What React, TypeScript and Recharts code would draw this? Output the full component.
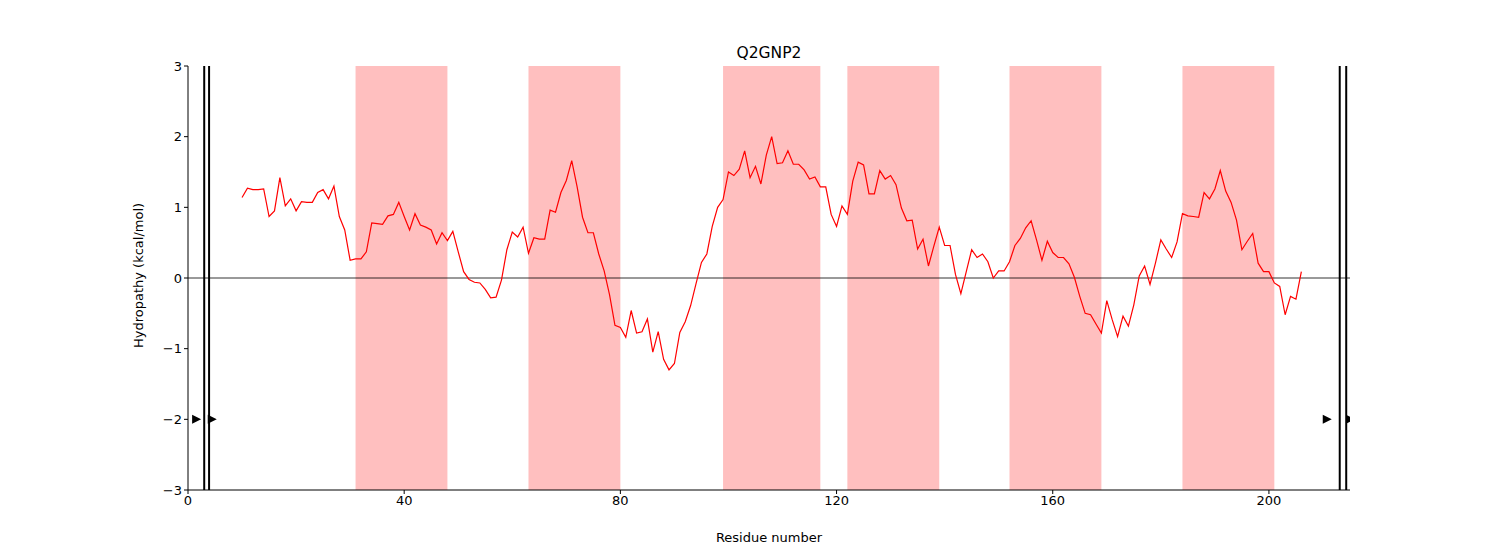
import React from 'react';
import { ComposedChart, Line, XAxis, YAxis, ReferenceArea, ReferenceLine, Scatter } from 'recharts';

const startResidue = 10;
const hydropathy = [
  1.14, 1.27, 1.25, 1.25, 1.26, 0.87, 0.95, 1.42, 1.02, 1.12,
  0.95, 1.08, 1.07, 1.07, 1.21, 1.25, 1.12, 1.30, 0.87, 0.68,
  0.25, 0.27, 0.27, 0.37, 0.78, 0.77, 0.76, 0.88, 0.90, 1.07,
  0.87, 0.68, 0.91, 0.75, 0.72, 0.68, 0.48, 0.64, 0.53, 0.66,
  0.37, 0.09, -0.02, -0.06, -0.07, -0.16, -0.28, -0.27, -0.03, 0.40,
  0.65, 0.58, 0.72, 0.35, 0.57, 0.55, 0.55, 0.96, 0.93, 1.21,
  1.38, 1.66, 1.29, 0.86, 0.64, 0.64, 0.34, 0.10, -0.24, -0.67,
  -0.70, -0.84, -0.46, -0.78, -0.76, -0.58, -1.05, -0.76, -1.15, -1.30,
  -1.21, -0.77, -0.62, -0.39, -0.08, 0.22, 0.34, 0.73, 1.00, 1.11,
  1.50, 1.45, 1.54, 1.80, 1.42, 1.58, 1.33, 1.74, 2.00, 1.62,
  1.63, 1.80, 1.61, 1.61, 1.53, 1.40, 1.43, 1.29, 1.29, 0.90,
  0.73, 1.02, 0.90, 1.37, 1.64, 1.60, 1.19, 1.19, 1.52, 1.40,
  1.45, 1.32, 0.99, 0.81, 0.82, 0.41, 0.55, 0.17, 0.45, 0.72,
  0.46, 0.46, 0.05, -0.22, 0.09, 0.40, 0.29, 0.34, 0.23, 0.00,
  0.10, 0.10, 0.23, 0.46, 0.56, 0.71, 0.81, 0.54, 0.25, 0.52,
  0.36, 0.29, 0.29, 0.20, 0.01, -0.26, -0.50, -0.52, -0.65, -0.78,
  -0.32, -0.59, -0.83, -0.54, -0.68, -0.38, 0.03, 0.17, -0.09, 0.21,
  0.54, 0.41, 0.29, 0.51, 0.91, 0.88, 0.87, 0.86, 1.21, 1.12,
  1.26, 1.52, 1.23, 1.07, 0.82, 0.40, 0.52, 0.63, 0.21, 0.09,
  0.09, -0.07, -0.12, -0.52, -0.26, -0.30, 0.09,
];
const bandStarts = [31, 63, 99, 122, 152, 184];
const bandEnds = [48, 80, 117, 139, 169, 201];
const boundaryLines = [3, 3.9, 213.1, 214.3];
const markerX = [1.5, 4.4, 210.7, 215];
const markerY = [-2, -2, -2, -2];
const xTicks = [0, 40, 80, 120, 160, 200];
const yTicks = [-3, -2, -1, 0, 1, 2, 3];

const data = hydropathy.map((v, i) => ({ x: startResidue + i, y: v }));
const markers = markerX.map((x, i) => ({ x, y: markerY[i] }));

const font = 'DejaVu Sans, sans-serif';
const fmt = (v: number) => (v < 0 ? '\u2212' + Math.abs(v) : String(v));

const Tri = (props: any) => {
  const { cx, cy } = props;
  if (cx == null || cy == null) return null;
  return <path d={`M${cx - 4},${cy - 4.5} L${cx + 5},${cy} L${cx - 4},${cy + 4.5} Z`} fill="#000" />;
};

export default function App() {
  return (
    <div style={{ position: 'absolute', left: 0, top: 0 }}>
      <ComposedChart width={1500} height={550} data={data}
        margin={{ top: 66, right: 150, bottom: 30, left: 128 }}>
        <XAxis xAxisId="b" type="number" dataKey="x" domain={[0, 215]} ticks={xTicks}
          allowDataOverflow tickSize={4} stroke="#000"
          tick={{ fill: '#000', fontSize: 13, fontFamily: font }} height={30}
          label={{ value: 'Residue number', position: 'insideBottom', offset: -22, fill: '#000', fontSize: 13, fontFamily: font }} />
        <XAxis xAxisId="t" orientation="top" type="number" domain={[0, 215]} tick={false} tickLine={false} height={0} stroke="#000" />
        <YAxis yAxisId="l" type="number" domain={[-3, 3]} ticks={yTicks} tickFormatter={fmt}
          allowDataOverflow tickSize={4} stroke="#000" width={60}
          tick={{ fill: '#000', fontSize: 13, fontFamily: font }}
          label={{ value: 'Hydropathy (kcal/mol)', angle: -90, position: 'insideLeft', offset: 10, dy: 70, fill: '#000', fontSize: 13, fontFamily: font }} />
        <YAxis yAxisId="r" orientation="right" type="number" domain={[-3, 3]} tick={false} tickLine={false} width={0} stroke="#000" />
        {bandStarts.map((s, i) => (
          <ReferenceArea key={i} xAxisId="b" yAxisId="l" x1={s} x2={bandEnds[i]} y1={-3} y2={3}
            fill="#ffbfbf" fillOpacity={1} stroke="none" ifOverflow="hidden" />
        ))}
        <ReferenceLine xAxisId="b" yAxisId="l" y={0} stroke="#000" strokeWidth={0.8} />
        {boundaryLines.map((x, i) => (
          <ReferenceLine key={i} xAxisId="b" yAxisId="l" x={x} stroke="#000" strokeWidth={2} />
        ))}
        <Line xAxisId="b" yAxisId="l" dataKey="y" type="linear" stroke="#ff0000" strokeWidth={1.2}
          dot={false} isAnimationActive={false} />
        <Scatter xAxisId="b" yAxisId="l" data={markers} dataKey="y" shape={Tri} isAnimationActive={false} />
        <text x={769} y={58} textAnchor="middle" fontSize={15.5} fontFamily={font} fill="#000">Q2GNP2</text>
      </ComposedChart>
    </div>
  );
}
